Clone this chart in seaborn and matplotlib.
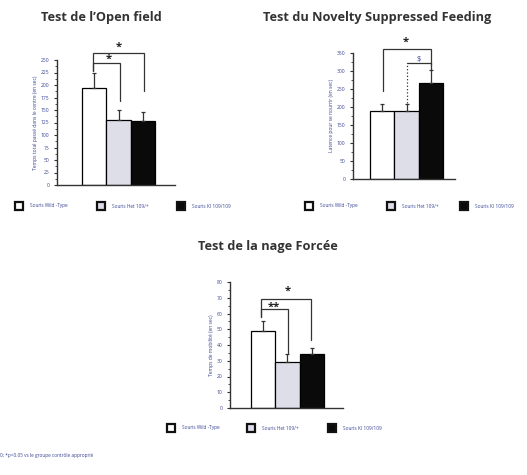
import matplotlib
matplotlib.use("Agg")
import matplotlib.pyplot as plt
from matplotlib.patches import Rectangle
from matplotlib.ticker import MultipleLocator, AutoMinorLocator
import seaborn as sns
import pandas as pd

sns.set_theme(style="white")
plt.rcParams["font.family"] = ["Open Sans", "DejaVu Sans"]

# Groups and colours
groups = ["Souris Wild -Type", "Souris Het 109/+", "Souris KI 109/109"]
colors = ["#ffffff", "#dcdcea", "#0a0a0a"]

# Open field: time in centre (mean, SEM)
of_mean = [194, 130, 128]
of_err = [30, 20, 19]

# Novelty suppressed feeding: latency (mean, SEM)
nsf_mean = [188, 188, 267]
nsf_err = [20, 20, 35]

# Forced swim: mobility time (mean, SEM)
fs_mean = [49, 29, 34]
fs_err = [6, 5, 4]

W, H = 527, 475
fig = plt.figure(figsize=(W / 100, H / 100), dpi=100)
fig.patch.set_facecolor("white")

NAVY = "#3a4694"
DARK = "#333333"


def px_axes(x0, y0, x1, y1):
    return fig.add_axes([x0 / W, 1 - y1 / H, (x1 - x0) / W, (y1 - y0) / H])


def panel(ax, means, errs, ymax, ystep, xlim, ylabel):
    df = pd.DataFrame({"groupe": groups, "val": means})
    sns.barplot(data=df, x="groupe", y="val", hue="groupe", palette=colors,
                width=1.0, errorbar=None, edgecolor="black", linewidth=0.9,
                legend=False, ax=ax)
    ax.errorbar(range(3), means, yerr=[[0] * 3, errs], fmt="none",
                ecolor=DARK, elinewidth=0.9, capsize=1.5, capthick=0.9)
    ax.set_xlim(*xlim)
    ax.set_ylim(0, ymax)
    ax.yaxis.set_major_locator(MultipleLocator(ystep))
    ax.yaxis.set_minor_locator(AutoMinorLocator(2))
    ax.set_xticks([])
    ax.set_xlabel("")
    ax.set_ylabel(ylabel, fontsize=3.6, color=NAVY, labelpad=2)
    ax.tick_params(axis="y", which="major", length=2.5, width=0.8,
                   labelsize=3.6, labelcolor=NAVY, color=DARK, pad=3, left=True)
    ax.tick_params(axis="y", which="minor", length=1.5, width=0.6,
                   color=DARK, left=True)
    for s in ["top", "right"]:
        ax.spines[s].set_visible(False)
    for s in ["left", "bottom"]:
        ax.spines[s].set_color(DARK)
        ax.spines[s].set_linewidth(1.0)
    ax.set_facecolor("none")


def bracket(ax, x0, x1, y, y0, y1, label, lx, ly):
    ax.plot([x0, x0, x1, x1], [y0, y, y, y1], color=DARK, lw=0.9,
            clip_on=False, solid_joinstyle="miter")
    ax.text(lx, ly, label, ha="center", va="bottom", fontsize=8,
            fontweight="bold", color="#222222", clip_on=False)


def legend_row(xs, y):
    for x, g, c in zip(xs, groups, colors):
        fig.patches.append(Rectangle((x / W, 1 - (y + 4) / H), 8 / W, 8 / H,
                                     transform=fig.transFigure,
                                     facecolor=c, edgecolor="#111111",
                                     linewidth=1.6))
        fig.text((x + 15) / W, 1 - y / H, g, fontsize=3.4, color=NAVY,
                 va="center", ha="left")


title_kw = dict(fontsize=9.2, fontweight="bold", color="#333333",
                ha="center", va="center")

# Panel 1: Open field
ax1 = px_axes(57, 60, 175, 185)
panel(ax1, of_mean, of_err, 250, 25, (-1.54, 3.33),
      "Temps total passé dans le centre (en sec)")
bracket(ax1, -0.04, 1.08, 244, 228, 168, "*", 0.6, 240)
bracket(ax1, -0.04, 2.04, 264, 228, 188, "*", 1.0, 264)
fig.text(101 / W, 1 - 18 / H, "Test de l’Open field", **title_kw)
legend_row([15, 97, 177], 206)

# Panel 2: Novelty suppressed feeding
ax2 = px_axes(353, 53, 455, 179)
panel(ax2, nsf_mean, nsf_err, 350, 50, (-1.2, 2.99),
      "Latence pour se nourrir (en sec)")
bracket(ax2, 0.05, 2.0, 361, 245, 317, "*", 0.95, 366)
ax2.plot([1.02, 1.02], [211, 322], color=DARK, lw=0.9, ls=":",
         clip_on=False)
ax2.plot([1.02, 2.0, 2.0], [322, 322, 302], color=DARK, lw=0.9,
         clip_on=False)
ax2.text(1.5, 322, "$", ha="center", va="bottom", fontsize=5.5,
         color=NAVY)
fig.text(377 / W, 1 - 18 / H, "Test du Novelty Suppressed Feeding", **title_kw)
legend_row([305, 387, 460], 206)

# Panel 3: Forced swim
ax3 = px_axes(230, 282, 343, 408)
panel(ax3, fs_mean, fs_err, 80, 10, (-1.36, 3.28),
      "Temps de mobilité (en sec)")
bracket(ax3, -0.1, 1.01, 62.9, 58, 35, "**", 0.45, 60.5)
bracket(ax3, -0.1, 1.97, 69.2, 58, 43, "*", 1.0, 70.5)
fig.text(268 / W, 1 - 246 / H, "Test de la nage Forcée", **title_kw)
legend_row([167, 247, 328], 428)

fig.text(0, 1 - 456 / H, "0; *p<0.05 vs le groupe contrôle approprié",
         fontsize=3.4, color=NAVY, va="center", ha="left")

fig.savefig("out.png", dpi=100, facecolor="white")
